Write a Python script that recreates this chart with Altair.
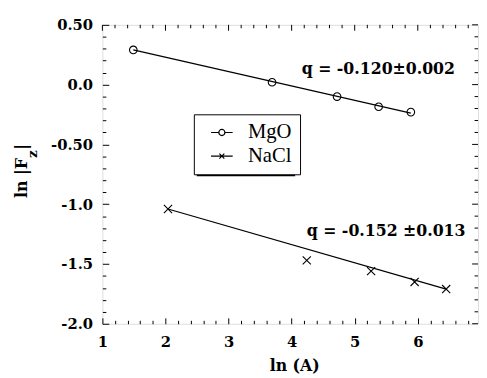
import altair as alt
import pandas as pd

# ---- data ----
mgo_x = [1.49, 3.69, 4.72, 5.38, 5.89]
mgo_y = [0.29, 0.02, -0.10, -0.185, -0.23]
nacl_x = [2.04, 4.24, 5.26, 5.95, 6.45]
nacl_y = [-1.04, -1.47, -1.56, -1.65, -1.71]
mgo_fit_x = [1.49, 5.89]
mgo_fit_y = [0.29, -0.238]
nacl_fit_x = [2.04, 6.45]
nacl_fit_y = [-1.04, -1.71]
series_names = ["MgO", "NaCl"]
annot_text = ["q = -0.120\u00b10.002", "q = -0.152 \u00b10.013"]
annot_x = [4.16, 4.24]
annot_y = [0.089, -1.268]

x_major = [1, 2, 3, 4, 5, 6]
x_labels = ["1", "2", "3", "4", "5", "6"]
y_major = [0.5, 0.0, -0.5, -1.0, -1.5, -2.0]
y_labels = ["0.50", "0.0", "-0.50", "-1.0", "-1.5", "-2.0"]
x_minor = [round(1 + 0.2 * i, 1) for i in range(30)]
y_minor = [round(-2.0 + 0.1 * i, 1) for i in range(26)]
x_minor_only = [v for v in x_minor if abs(v - round(v)) > 1e-6]
y_minor_only = [v for v in y_minor if abs(v * 2 - round(v * 2)) > 1e-6]

W, H = 382, 304
BOLD = "DejaVu Serif"
xs = alt.Scale(domain=[1, 6.955], nice=False, zero=False)
ys = alt.Scale(domain=[-2.0, 0.5], nice=False, zero=False)


def label_expr(vals, labs):
    parts = [f"abs(datum.value - ({v})) < 0.001 ? '{l}'" for v, l in zip(vals, labs)]
    return " : ".join(parts) + " : ''"


X_PATH = "M-1,-1L1,1M-1,1L1,-1"
LEG_MGO = "M-2.2,0H-0.62M0.62,0H2.2M-0.62,0A0.62,0.62 0 1 1 0.62,0A0.62,0.62 0 1 1 -0.62,0"
LEG_NACL = "M-2.2,0H2.2M-0.5,-0.5L0.5,0.5M-0.5,0.5L0.5,-0.5"

fit_df = pd.DataFrame({
    "x": mgo_fit_x + nacl_fit_x,
    "y": mgo_fit_y + nacl_fit_y,
    "series": ["MgO"] * len(mgo_fit_x) + ["NaCl"] * len(nacl_fit_x),
})
mgo_df = pd.DataFrame({"x": mgo_x, "y": mgo_y})
nacl_df = pd.DataFrame({"x": nacl_x, "y": nacl_y})
ann_df = pd.DataFrame({"t": annot_text, "x": annot_x, "y": annot_y})
one = pd.DataFrame({"a": [0]})


def X(axis=None):
    return alt.X("x:Q", scale=xs, axis=axis)


def Y(axis=None):
    return alt.Y("y:Q", scale=ys, axis=axis)


x_tick_cond = {"condition": {"test": "abs(datum.value - round(datum.value)) < 0.001", "value": 6}, "value": 3.5}
y_tick_cond = {"condition": {"test": "abs(datum.value*2 - round(datum.value*2)) < 0.001", "value": 6.5}, "value": 3.5}

lines = alt.Chart(fit_df).mark_line(color="black", strokeWidth=1.2).encode(
    x=X(), y=Y(), detail="series:N")
pts_mgo = alt.Chart(mgo_df).mark_point(shape="circle", filled=False, size=60,
                                       color="black", strokeWidth=1.1, opacity=1).encode(x=X(), y=Y())
pts_nacl = alt.Chart(nacl_df).mark_point(shape=X_PATH, filled=False, size=69,
                                         color="black", strokeWidth=1.1, opacity=1).encode(x=X(), y=Y())
ann = alt.Chart(ann_df).mark_text(align="left", baseline="alphabetic", font=BOLD,
                                  fontWeight="bold", fontSize=16, color="black").encode(
    x=X(), y=Y(), text="t:N")

yt1 = alt.Chart(one).mark_text(text="ln |F", angle=270, align="left", baseline="alphabetic",
                               font=BOLD, fontWeight="bold", fontSize=16, color="black").encode(
    x=alt.value(-77), y=alt.value(176))
yt2 = alt.Chart(one).mark_text(text="z", angle=270, align="left", baseline="alphabetic",
                               font=BOLD, fontWeight="bold", fontSize=14, color="black").encode(
    x=alt.value(-66), y=alt.value(135.5))
yt3 = alt.Chart(one).mark_text(text="|", angle=270, align="left", baseline="alphabetic",
                               font=BOLD, fontWeight="bold", fontSize=16, color="black").encode(
    x=alt.value(-77), y=alt.value(127))

# labels + titles (bottom / left)
ax_labels = alt.Chart(fit_df).mark_point(opacity=0).encode(
    x=X(alt.Axis(orient="bottom", values=x_major, labelExpr=label_expr(x_major, x_labels),
                 domain=False, ticks=False, tickSize=0, labelPadding=11, labelFlush=False,
                 labelOverlap=False, labelFont=BOLD, labelFontWeight="bold", labelFontSize=15,
                 labelColor="black", title="ln (A)", titleFont=BOLD, titleFontWeight="bold",
                 titleFontSize=16, titleColor="black", titleX=195, titleY=48,
                 titleBaseline="alphabetic", grid=False)),
    y=Y(alt.Axis(orient="left", values=y_major, labelExpr=label_expr(y_major, y_labels),
                 domain=False, ticks=False, tickSize=0, labelPadding=10, labelFlush=False,
                 labelOverlap=False, labelFont=BOLD, labelFontWeight="bold", labelFontSize=15,
                 labelColor="black", title=None, grid=False)),
)
# inward ticks on bottom and left edges (axes flipped onto the opposite edge)
ax_in = alt.Chart(fit_df).mark_point(opacity=0).encode(
    x=X(alt.Axis(orient="top", offset=-H, values=x_minor, labels=False, domain=False,
                 ticks=True, tickColor="black", tickWidth=1, tickSize=x_tick_cond,
                 title=None, grid=False)),
    y=Y(alt.Axis(orient="right", offset=-W, values=y_minor, labels=False, domain=False,
                 ticks=True, tickColor="black", tickWidth=1, tickSize=y_tick_cond,
                 title=None, grid=False)),
)


# inward ticks on top and right edges, placed through the scales
def top_ticks(vals, length):
    return alt.Chart(pd.DataFrame({"v": vals})).mark_rule(color="black", strokeWidth=1).encode(
        x=alt.X("v:Q", scale=xs, axis=None), y=alt.value(0), y2=alt.value(length))


def right_ticks(vals, length):
    return alt.Chart(pd.DataFrame({"v": vals})).mark_rule(color="black", strokeWidth=1).encode(
        y=alt.Y("v:Q", scale=ys, axis=None), x=alt.value(W), x2=alt.value(W - length))


tick_layers = [top_ticks(x_major, 6), top_ticks(x_minor_only, 3.5),
               right_ticks(y_major, 6), right_ticks(y_minor_only, 3.5)]

LX, LY = 93, 91
shadow = alt.Chart(one).mark_rect(color="black").encode(
    x=alt.value(LX + 3), x2=alt.value(LX + 103), y=alt.value(LY + 3), y2=alt.value(LY + 63))

legend_layer = alt.Chart(pd.DataFrame({"series": series_names})).transform_filter("false").mark_point(
    filled=False, size=277, color="black", strokeWidth=1.2, opacity=1).encode(
    shape=alt.Shape("series:N", scale=alt.Scale(domain=series_names, range=[LEG_MGO, LEG_NACL]),
                    legend=alt.Legend(title=None, orient="none", legendX=LX, legendY=LY,
                                      direction="vertical", fillColor="white", strokeColor="black",
                                      padding=8, rowPadding=2, symbolOffset=10, labelOffset=16,
                                      labelFont="Liberation Serif", labelFontSize=21,
                                      labelColor="black", symbolStrokeColor="black",
                                      symbolFillColor="white", symbolStrokeWidth=1.2)))

chart = alt.layer(
    shadow, lines, pts_mgo, pts_nacl, ann, yt1, yt2, yt3,
    ax_labels, ax_in, *tick_layers, legend_layer
).resolve_axis(x="independent", y="independent").properties(
    width=W, height=H,
    autosize=alt.AutoSizeParams(type="none"),
    padding={"left": 96, "right": 1, "top": 14, "bottom": 50},
).configure_view(stroke="black", strokeWidth=1).configure(background="white")

chart.save("out.html", embed_options={"renderer": "svg", "actions": False})
